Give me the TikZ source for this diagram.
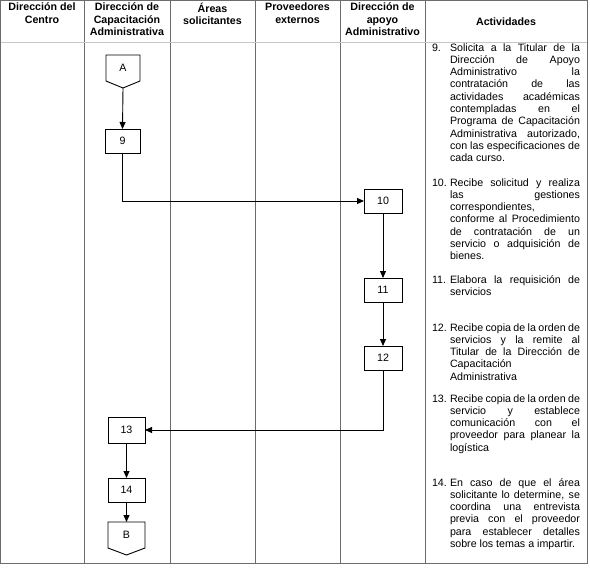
\documentclass[tikz,border=0pt]{standalone}
\usepackage{fontspec}
\setmainfont{Liberation Sans}
\usetikzlibrary{arrows.meta}
\newcommand{\jline}[1]{\makebox[\linewidth][s]{#1}\\}
\newcommand{\lline}[1]{#1\\}
\newcommand{\finline}[1]{#1}
\begin{document}
\begin{tikzpicture}[x=1pt,y=-1pt,
  every node/.style={inner sep=0pt,outer sep=0pt,font=\fontsize{10.67}{12.3}\selectfont},
  grid/.style={draw=gray!85!black,line width=0.9pt},
  hdr/.style={align=center,anchor=north,font=\bfseries\fontsize{10.67}{12.5}\selectfont},
  para/.style={anchor=base west},
  stepbox/.style={draw=black,line width=0.9pt,minimum width=36pt,minimum height=24pt},
  conn/.style={draw=black,line width=0.9pt},
  flow/.style={conn,-{Triangle[length=7pt,width=6pt]}}]
\useasboundingbox (0,0) rectangle (590,568);
% table
\draw[grid] (0.5,0.5) rectangle (587,563.5);
\foreach \xx in {84,170,255,340,425} \draw[grid] (\xx,0.5) -- (\xx,563.5);
\draw[draw=gray!45,line width=1.6pt] (0.5,42.5) -- (587,42.5);
% headers
\node[hdr] (h1) at (42,3) {Dirección del\\Centro};
\node[hdr] (h2) at (127,3) {Dirección de\\Capacitación\\Administrativa};
\node[hdr] (h3) at (212.5,3) {Áreas\\solicitantes};
\node[hdr] (h4) at (297.5,3) {Proveedores\\externos};
\node[hdr] (h5) at (382.5,3) {Dirección de\\apoyo\\Administrativo};
\node[hdr,anchor=base] (h6) at (506,25) {Actividades};
% connectors off-page
\node[minimum width=34pt,minimum height=33pt] (A) at (123,71.5) {};
\draw[conn] (A.north west) -- (A.north east) -- ([yshift=7pt]A.south east) -- (A.south) -- ([yshift=7pt]A.south west) -- cycle;
\node at (123,68) {A};
\node[minimum width=37pt,minimum height=33pt] (B) at (126.5,538.5) {};
\draw[conn] (B.north west) -- (B.north east) -- ([yshift=7pt]B.south east) -- (B.south) -- ([yshift=7pt]B.south west) -- cycle;
\node at (126.5,535) {B};
% step boxes
\node[stepbox,minimum width=35pt] (s9) at (122.5,141) {9};
\node[stepbox,minimum width=38pt] (s10) at (383,201) {10};
\node[stepbox,minimum width=38pt] (s11) at (383,290) {11};
\node[stepbox,minimum width=38pt] (s12) at (383,358) {12};
\node[stepbox,minimum width=37pt,minimum height=26pt] (s13) at (126.5,430) {13};
\node[stepbox,minimum width=37pt] (s14) at (126.5,490) {14};
% flows
\draw[flow] (A.south) -- (s9.north);
\draw[flow] (s9.south) |- (s10.west);
\draw[flow] (s10.south) -- (s11.north);
\draw[flow] (s11.south) -- (s12.north);
\draw[flow] (s12.south) |- (s13.east);
\draw[flow] (s13.south) -- (s14.north);
\draw[flow] (s14.south) -- (B.north);
% activities
\node[para] (n9) at (432,51) {9.};
\node[para] (t9) at (450,51) {\parbox[t]{130pt}{%
\jline{Solicita a la Titular de la}
\jline{Dirección de Apoyo}
\jline{Administrativo la}
\jline{contratación de las}
\jline{actividades académicas}
\jline{contempladas en el}
\jline{Programa de Capacitación}
\jline{Administrativa autorizado,}
\jline{con las especificaciones de}
\finline{cada curso.}}};
\node[para] (n10) at (432,186) {10.};
\node[para] (t10) at (450,186) {\parbox[t]{130pt}{%
\jline{Recibe solicitud y realiza}
\jline{las gestiones}
\lline{correspondientes,}
\jline{conforme al Procedimiento}
\jline{de contratación de un}
\jline{servicio o adquisición de}
\finline{bienes.}}};
\node[para] (n11) at (432,283) {11.};
\node[para] (t11) at (450,283) {\parbox[t]{130pt}{%
\jline{Elabora la requisición de}
\finline{servicios}}};
\node[para] (n12) at (432,331) {12.};
\node[para] (t12) at (450,331) {\parbox[t]{130pt}{%
\jline{Recibe copia de la orden de}
\jline{servicios y la remite al}
\jline{Titular de la Dirección de}
\lline{Capacitación}
\finline{Administrativa}}};
\node[para] (n13) at (432,402) {13.};
\node[para] (t13) at (450,402) {\parbox[t]{130pt}{%
\jline{Recibe copia de la orden de}
\jline{servicio y establece}
\jline{comunicación con el}
\jline{proveedor para planear la}
\finline{logística}}};
\node[para] (n14) at (432,486) {14.};
\node[para] (t14) at (450,486) {\parbox[t]{130pt}{%
\jline{En caso de que el área}
\jline{solicitante lo determine, se}
\jline{coordina una entrevista}
\jline{previa con el proveedor}
\jline{para establecer detalles}
\finline{sobre los temas a impartir.}}};
\end{tikzpicture}
\end{document}
